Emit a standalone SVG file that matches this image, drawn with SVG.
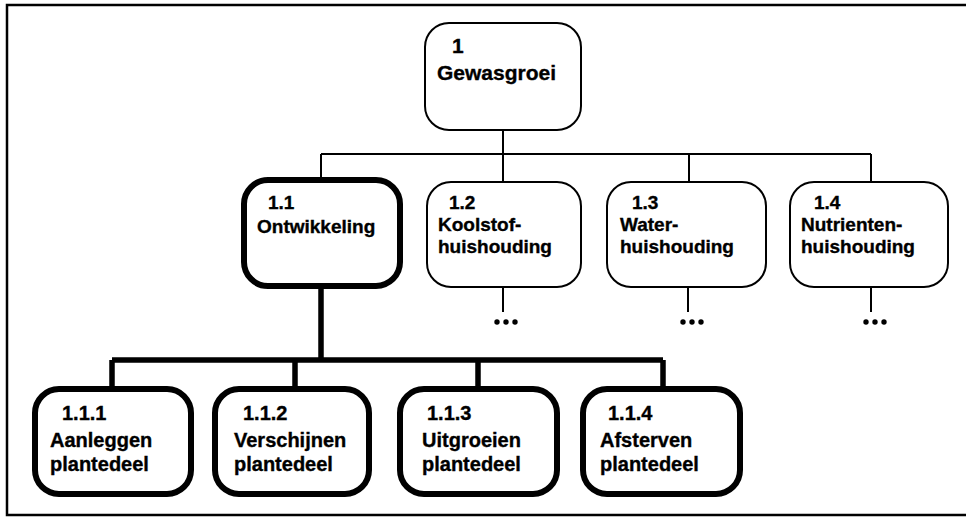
<svg xmlns="http://www.w3.org/2000/svg" width="966" height="518" viewBox="0 0 966 518">
  <style>
    .bg { fill: #ffffff; }
    .frame { fill: none; stroke: #000; stroke-width: 2.5; }
    .box { fill: #ffffff; stroke: #000; stroke-width: 2; }
    .box-bold { fill: #ffffff; stroke: #000; stroke-width: 6; }
    .wire { fill: none; stroke: #000; stroke-width: 2; }
    .wire-bold { fill: none; stroke: #000; stroke-width: 5.5; }
    .dot { fill: #000; }
    text { font-family: "Liberation Sans", Arial, Helvetica, sans-serif; font-weight: bold; fill: #000; stroke: #000; stroke-width: 0.35; }
    .t1 { font-size: 21px; }
    .t2 { font-size: 19px; }
    .t3 { font-size: 20px; }
  </style>

  <rect class="bg" x="0" y="0" width="966" height="518"/>

  <!-- open page frame: top, left and bottom edges -->
  <path class="frame" d="M966,5 H7 V515 H966"/>

  <!-- connectors -->
  <g id="connectors">
    <path class="wire" d="M503,130 V154 M321,154 H871 M321,154 V180 M503,154 V182 M689,154 V182 M871,154 V182"/>
    <path class="wire" d="M503,287 V312 M688,287 V312 M871,287 V312"/>
    <g class="dot">
      <circle cx="497" cy="322" r="2.7"/><circle cx="506" cy="322" r="2.7"/><circle cx="515" cy="322" r="2.7"/>
      <circle cx="683" cy="322" r="2.7"/><circle cx="692" cy="322" r="2.7"/><circle cx="701" cy="322" r="2.7"/>
      <circle cx="866" cy="322" r="2.7"/><circle cx="875" cy="322" r="2.7"/><circle cx="884" cy="322" r="2.7"/>
    </g>
    <path class="wire-bold" d="M321,287 V360 M112,360 H663 M112,360 V389 M295,360 V389 M478,360 V389 M663,360 V389"/>
  </g>

  <!-- level 0 -->
  <g id="n1">
    <rect class="box" x="425" y="23" width="156" height="107" rx="24"/>
    <text class="t1" x="452" y="53">1</text>
    <text class="t1" x="437" y="80">Gewasgroei</text>
  </g>

  <!-- level 1 -->
  <g id="n1-1">
    <rect class="box-bold" x="244" y="180" width="156" height="106" rx="24"/>
    <text class="t2" x="268" y="209">1.1</text>
    <text class="t2" x="257" y="233">Ontwikkeling</text>
  </g>
  <g id="n1-2">
    <rect class="box" x="427" y="182" width="154" height="105" rx="24"/>
    <text class="t2" x="449" y="209">1.2</text>
    <text class="t2" x="438" y="231">Koolstof-</text>
    <text class="t2" x="438" y="253">huishouding</text>
  </g>
  <g id="n1-3">
    <rect class="box" x="607" y="182" width="159" height="105" rx="24"/>
    <text class="t2" x="632" y="209">1.3</text>
    <text class="t2" x="620" y="231">Water-</text>
    <text class="t2" x="620" y="253">huishouding</text>
  </g>
  <g id="n1-4">
    <rect class="box" x="790" y="182" width="158" height="105" rx="24"/>
    <text class="t2" x="814" y="209">1.4</text>
    <text class="t2" x="801" y="231">Nutrienten-</text>
    <text class="t2" x="801" y="253">huishouding</text>
  </g>

  <!-- level 2 -->
  <g id="n1-1-1">
    <rect class="box-bold" x="35" y="389" width="156" height="105" rx="24"/>
    <text class="t3" x="62" y="420">1.1.1</text>
    <text class="t3" x="50" y="447">Aanleggen</text>
    <text class="t3" x="50" y="471">plantedeel</text>
  </g>
  <g id="n1-1-2">
    <rect class="box-bold" x="215" y="389" width="154" height="105" rx="24"/>
    <text class="t3" x="243" y="420">1.1.2</text>
    <text class="t3" x="234" y="447">Verschijnen</text>
    <text class="t3" x="234" y="471">plantedeel</text>
  </g>
  <g id="n1-1-3">
    <rect class="box-bold" x="400" y="389" width="157" height="105" rx="24"/>
    <text class="t3" x="427" y="420">1.1.3</text>
    <text class="t3" x="422" y="447">Uitgroeien</text>
    <text class="t3" x="422" y="471">plantedeel</text>
  </g>
  <g id="n1-1-4">
    <rect class="box-bold" x="583" y="389" width="157" height="105" rx="24"/>
    <text class="t3" x="608" y="420">1.1.4</text>
    <text class="t3" x="600" y="447">Afsterven</text>
    <text class="t3" x="600" y="471">plantedeel</text>
  </g>
</svg>
